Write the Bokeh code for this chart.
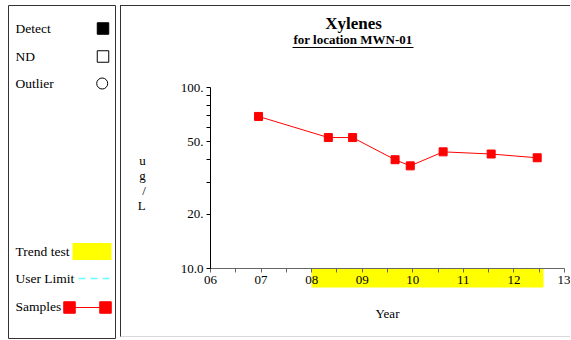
from bokeh.plotting import figure
from bokeh.models import Range1d, LinearAxis, LogAxis, FixedTicker, Label, Arrow
from bokeh.layouts import row
from bokeh.embed import file_html
from bokeh.resources import INLINE
from bokeh.core.properties import value

# ---------------- data ----------------
sample_year = [2006.95, 2008.33, 2008.81, 2009.65, 2009.95, 2010.60, 2011.55, 2012.46]
sample_value = [69.2, 52.9, 52.9, 39.9, 36.9, 44.1, 42.9, 40.9]

trend_start = 2008.0
trend_end = 2012.59

year_ticks = [2006, 2007, 2008, 2009, 2010, 2011, 2012, 2013]
year_labels = ["06", "07", "08", "09", "10", "11", "12", "13"]
year_minor = [2006.5, 2007.5, 2008.5, 2009.5, 2010.5, 2011.5, 2012.5]

conc_ticks = [10, 20, 50, 100]
conc_labels = ["10.0", "20.", "50.", "100."]
conc_minor = [30, 40, 60, 70, 80, 90]

legend_labels = ["Detect", "ND", "Outlier", "Trend test", "User Limit", "Samples"]

title_text = "Xylenes"
subtitle_text = "for location MWN-01"
x_title = "Year"
y_title = "u\ng\n/\nL"

FONT = "Liberation Serif"

# ---------------- legend panel ----------------
LW, LH = 108, 334
leg = figure(width=LW, height=LH, x_range=Range1d(0, LW), y_range=Range1d(LH, 0),
             output_backend="svg", toolbar_location=None, min_border=0,
             x_axis_location=None, y_axis_location=None,
             outline_line_color="#333333", outline_line_width=1)
leg.frame_align = False
for g in leg.grid:
    g.visible = False

row_y = [23, 51, 78, 246, 273, 301]
leg.text(x=[7] * 6, y=row_y, text=legend_labels, text_font=value(FONT),
         text_font_size=value("13.5px"), text_baseline="middle", text_color="black")
leg.scatter(x=[94.5], y=[row_y[0]], marker="square", size=11.5, fill_color="black", line_color="black")
leg.scatter(x=[94.5], y=[row_y[1]], marker="square", size=11.5, fill_color=None, line_color="black")
leg.scatter(x=[93.7], y=[row_y[2]], marker="circle", size=11, fill_color=None, line_color="black")
leg.quad(left=[64], right=[103], top=[row_y[3] - 8.5], bottom=[row_y[3] + 8.5],
         fill_color="#ffff00", line_color=None)
leg.line(x=[70, 103], y=[row_y[4], row_y[4]], line_color="#66ffff", line_width=1.5, line_dash="7 5")
leg.line(x=[61, 97], y=[row_y[5] + 1, row_y[5] + 1], line_color="red", line_width=1)
leg.scatter(x=[61, 97], y=[row_y[5] + 1] * 2, marker="square", size=11.5, fill_color="red", line_color="red")

# ---------------- chart panel ----------------
PW, PH = 450, 332
ML, MR, MB = 89, 7, 70
frame_w = PW - ML - MR
frame_h = PH - MB
decade_px = 181.0
top_pad_px = frame_h - decade_px
y_end = 100 * 10 ** (top_pad_px / decade_px)
px_per_year = frame_w / (year_ticks[-1] - year_ticks[0])

p = figure(width=PW, height=PH, x_range=Range1d(year_ticks[0], year_ticks[-1]),
           y_range=Range1d(10, y_end),
           y_axis_type="log", output_backend="svg", toolbar_location=None,
           x_axis_location=None, y_axis_location=None,
           min_border_left=ML, min_border_right=MR, min_border_top=0, min_border_bottom=MB,
           outline_line_color=None,
           styles={"border-top": "1px solid #333333", "border-left": "1px solid #333333",
                   "border-bottom": "1px solid #d8d8d8"})
p.frame_align = False
for g in p.grid:
    g.visible = False

p.line(sample_year, sample_value, line_color="red", line_width=1)
p.scatter(sample_year, sample_value, marker="square", size=8, fill_color="red", line_color="red")

# trend-test band drawn just under the x axis line (one wide tick of a helper axis,
# added first so that it sits next to the frame and is painted before the real axis)
trend_mid = (trend_start + trend_end) / 2
band = LinearAxis(ticker=FixedTicker(ticks=[trend_mid], minor_ticks=[]),
                  major_label_overrides={trend_mid: " "},
                  major_label_text_font_size="1px", major_label_text_alpha=0,
                  major_label_standoff=0, axis_line_color=None,
                  major_tick_in=-19, major_tick_out=0, minor_tick_in=0, minor_tick_out=0,
                  major_tick_line_color="#ffff00", major_tick_line_cap="butt",
                  major_tick_line_width=(trend_end - trend_start) * px_per_year)
p.add_layout(band, "below")

xaxis = LinearAxis(ticker=FixedTicker(ticks=year_ticks, minor_ticks=year_minor),
                   major_label_overrides=dict(zip(year_ticks, year_labels)),
                   axis_label=x_title, axis_label_standoff=19,
                   axis_label_text_font=FONT, axis_label_text_font_size="13px",
                   axis_label_text_font_style="normal", axis_label_text_color="black",
                   axis_line_color="#666666", major_tick_line_color="#666666",
                   minor_tick_line_color="#666666",
                   major_tick_in=0, major_tick_out=4, minor_tick_in=0, minor_tick_out=4,
                   major_label_standoff=3,
                   major_label_text_font=FONT, major_label_text_font_size="13px",
                   major_label_text_color="black")
p.add_layout(xaxis, "below")

yaxis = LogAxis(bounds=(10, 100),
                ticker=FixedTicker(ticks=conc_ticks, minor_ticks=conc_minor),
                major_label_overrides=dict(zip(conc_ticks, conc_labels)),
                axis_label="\n" * 6 + y_title, axis_label_orientation="horizontal",
                axis_label_standoff=32, axis_label_text_font=FONT,
                axis_label_text_font_size="13px", axis_label_text_font_style="normal",
                axis_label_text_line_height=1.0, axis_label_text_color="black",
                axis_line_color="black", major_tick_line_color="black",
                minor_tick_line_color="black",
                major_tick_in=0, major_tick_out=4, minor_tick_in=0, minor_tick_out=4,
                major_label_standoff=3,
                major_label_text_font=FONT, major_label_text_font_size="13px",
                major_label_text_color="black")
p.add_layout(yaxis, "left")

# titles (screen units relative to the plot frame, which reaches the top edge)
p.add_layout(Label(x=143, y=245, x_units="screen", y_units="screen",
                   text=title_text, text_align="center", text_baseline="alphabetic",
                   text_font=FONT, text_font_size="17px", text_font_style="bold",
                   text_color="black"))
p.add_layout(Label(x=142.5, y=229, x_units="screen", y_units="screen",
                   text=subtitle_text, text_align="center", text_baseline="alphabetic",
                   text_font=FONT, text_font_size="13px", text_font_style="bold",
                   text_color="black"))
p.add_layout(Arrow(x_start=82, y_start=221, x_end=203, y_end=221,
                   start_units="screen", end_units="screen", start=None, end=None,
                   line_color="black", line_width=1))

layout = row(leg, p, spacing=4, margin=(5, 0, 0, 8))
open("out.html", "w").write(file_html(layout, INLINE))
